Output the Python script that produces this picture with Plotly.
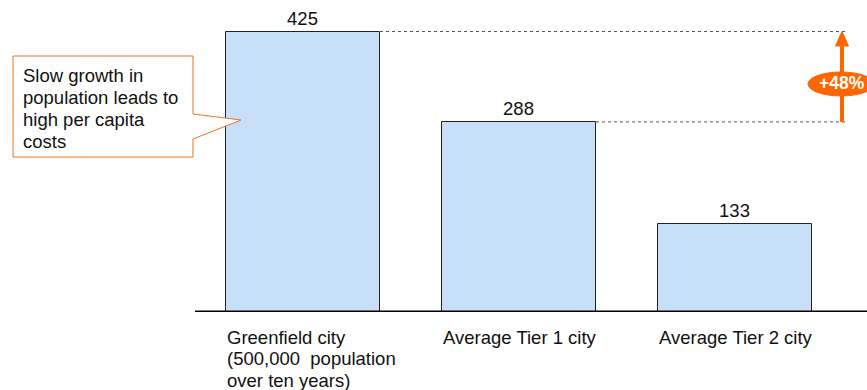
import plotly.graph_objects as go

categories = ["Greenfield city<br>(500,000  population<br>over ten years)",
              "Average Tier 1 city", "Average Tier 2 city"]
values = [425, 288, 133]
growth_label = "+48%"
callout_text = "Slow growth in<br>population leads to<br>high per capita<br>costs"

FONT = "Liberation Sans, Arial, sans-serif"
W, H = 867, 390
xpos = [0, 1, 2]
bw = 0.713
PXU = 216.0   # pixels per category unit
PYU = 0.66    # pixels per value unit
x0r, x1r = -303 / PXU, (867 - 303) / PXU
ymax = 312 / PYU

px = lambda p: (p - 303) / PXU
py = lambda p: (312 - p) / PYU

fig = go.Figure()
fig.add_trace(go.Bar(
    x=xpos, y=values, width=bw,
    marker=dict(color="#C8DFFA", line=dict(color="#222222", width=1)),
    text=[str(v) for v in values], textposition="outside",
    textfont=dict(family=FONT, size=18.5, color="#111111"),
    cliponaxis=False, hoverinfo="skip",
))

shapes = []
annotations = []


def multiline(text, x, y_first_px, step, size):
    for i, line in enumerate(text.split("<br>")):
        annotations.append(dict(x=x, y=0, xref="x", yref="paper", text=line,
                                yshift=312 - (y_first_px + step * i),
                                showarrow=False, xanchor="left", yanchor="middle", align="left",
                                font=dict(family=FONT, size=size, color="#111111")))


# baseline
shapes.append(dict(type="line", xref="x", yref="y", x0=px(195), x1=x1r, y0=0, y1=0,
                   line=dict(color="#000000", width=3), layer="above"))
# dotted reference lines
xend = px(848)
for i in (0, 1):
    shapes.append(dict(type="line", xref="x", yref="y", x0=xpos[i] + bw / 2,
                       x1=xend, y0=values[i], y1=values[i],
                       line=dict(color="#555555", width=1, dash="dot")))
# arrow shaft + head
xa = px(842)
shapes.append(dict(type="line", xref="x", yref="y", x0=xa, x1=xa, y0=values[1], y1=values[0] - 20,
                   line=dict(color="#FF6600", width=4)))
shapes.append(dict(type="path", xref="x", yref="y",
                   path=f"M {xa-0.03},{values[0]-22} L {xa+0.03},{values[0]-22} L {xa},{values[0]} Z",
                   fillcolor="#FF6600", line=dict(color="#FF6600", width=1)))
# ellipse
shapes.append(dict(type="circle", xref="x", yref="y", x0=px(808), x1=px(874), y0=py(96), y1=py(72),
                   fillcolor="#FF6600", line=dict(color="#FF6600", width=1)))
annotations.append(dict(x=px(842), y=py(83), xref="x", yref="y", text=f"<b>{growth_label}</b>",
                        showarrow=False, font=dict(family=FONT, size=17.5, color="white")))
# callout box with pointer
path = (f"M {px(13)},{py(56)} L {px(193)},{py(56)} L {px(193)},{py(114)} L {px(241)},{py(120)} "
        f"L {px(193)},{py(139)} L {px(193)},{py(157)} L {px(13)},{py(157)} Z")
shapes.append(dict(type="path", xref="x", yref="y", path=path, fillcolor="white",
                   line=dict(color="#F07020", width=1), layer="above"))
multiline(callout_text, px(21), 75.5, 22, 18.5)
# category labels
for xp, c in zip(xpos, categories):
    multiline(c, xp - bw / 2 - 1 / PXU, 337.5, 21.3, 18.5)

fig.update_layout(
    width=W, height=H, margin=dict(l=0, r=0, t=0, b=H - 312),
    paper_bgcolor="white", plot_bgcolor="white", showlegend=False,
    xaxis=dict(range=[x0r, x1r], visible=False, fixedrange=True),
    yaxis=dict(range=[0, ymax], visible=False, fixedrange=True),
    shapes=shapes, annotations=annotations, bargap=0,
)
fig.write_html("out.html", config={"displayModeBar": False},
               post_script="document.body.style.margin='0';document.body.style.overflow='hidden';")
